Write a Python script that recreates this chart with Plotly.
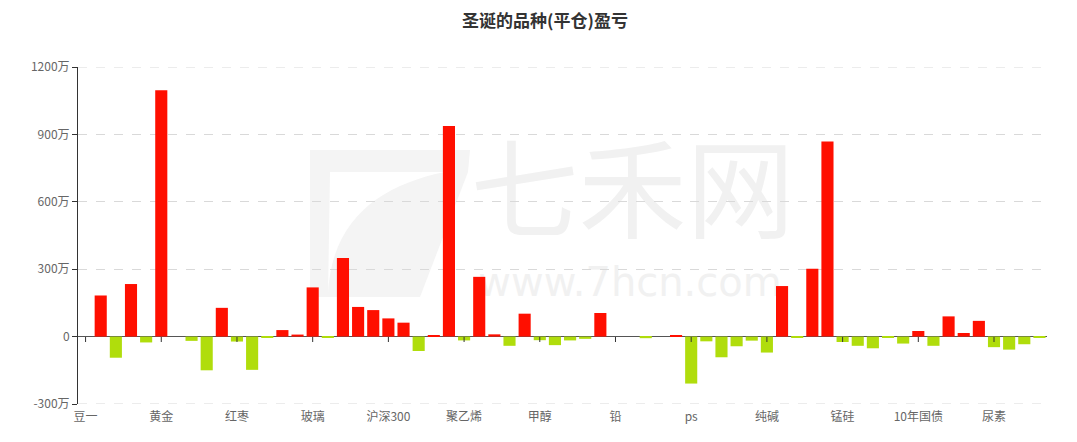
import plotly.graph_objects as go

# ---- data (values in 万元) ----
categories = [
    "豆一", "豆二", "豆粕", "豆油", "白银", "黄金", "棕榈油", "苹果", "棉花", "白糖",
    "红枣", "菜粕", "菜油", "鸡蛋", "生猪", "玻璃", "纸浆", "铁矿石", "螺纹钢", "热卷",
    "沪深300", "上证50", "中证500", "焦炭", "焦煤", "聚乙烯", "聚丙烯", "PVC", "PTA", "乙二醇",
    "甲醇", "苯乙烯", "沥青", "燃油", "原油", "铅", "铜", "铝", "锌", "镍",
    "ps", "锡", "不锈钢", "橡胶", "20号胶", "纯碱", "硅铁", "动力煤", "短纤", "液化气",
    "锰硅", "玉米", "淀粉", "粳米", "花生", "10年国债", "5年国债", "2年国债", "中证1000", "工业硅",
    "尿素", "碳酸锂", "集运指数", "菜籽",
]
pnl = [
    0, 183, -94, 234, -26, 1097, 0, -19, -150, 128,
    -22, -148, -3, 29, 9, 219, -2, 350, 132, 118,
    81, 62, -64, 6, 937, -17, 266, 10, -41, 102,
    -16, -38, -17, -10, 105, 0, 0, -7, 0, 3,
    -209, -21, -92, -43, -18, -71, 225, -5, 302, 868,
    -24, -41, -52, -4, -31, 25, -41, 90, 16, 70,
    -47, -58, -34, -2,
]
tick_labels = ["豆一", "黄金", "红枣", "玻璃", "沪深300", "聚乙烯", "甲醇", "铅", "ps",
               "纯碱", "锰硅", "10年国债", "尿素"]
y_ticks = [-300, 0, 300, 600, 900, 1200]
y_ticktext = ["-300万", "0", "300万", "600万", "900万", "1200万"]
title = "圣诞的品种(平仓)盈亏"

RED = "#ff0f00"
GREEN = "#b0dd0c"
FONT = "Noto Sans CJK SC"

colors = [RED if v >= 0 else GREEN for v in pnl]

fig = go.Figure(go.Bar(
    x=categories, y=pnl, marker=dict(color=colors, line=dict(width=0)),
    hovertemplate="%{x}: %{y}万<extra></extra>",
))

# plot area in pixels: x 78..1047, y 67..404
L, R, T, B = 78, 1047, 67, 404
W, H = 1077, 442


def px(x):
    return (x - L) / (R - L)


def py(y):
    return (B - y) / (B - T)


shapes = []
# watermark logo (light gray)
shapes.append(dict(
    type="path", xref="paper", yref="paper", layer="below",
    path=(f"M {px(310)},{py(150)} L {px(470)},{py(150)} L {px(468)},{py(172)} "
          f"L {px(420)},{py(297)} L {px(310)},{py(297)} Z"),
    fillcolor="#f4f4f4", line=dict(width=0),
))
shapes.append(dict(
    type="path", xref="paper", yref="paper", layer="below",
    path=(f"M {px(328)},{py(297)} C {px(330)},{py(220)} {px(380)},{py(185)} {px(445)},{py(172)} "
          f"L {px(330)},{py(172)} Z"),
    fillcolor="#ffffff", line=dict(width=0),
))
# watermark texts
shapes.append(dict(
    type="rect", xref="paper", yref="paper", layer="below",
    x0=px(470), x1=px(795), y0=py(255), y1=py(145),
    line=dict(width=0), fillcolor="rgba(0,0,0,0)",
    label=dict(text="七禾网", font=dict(family=FONT, size=108, color="#f1f1f1"),
               textposition="middle center"),
))
shapes.append(dict(
    type="rect", xref="paper", yref="paper", layer="below",
    x0=px(470), x1=px(790), y0=py(300), y1=py(258),
    line=dict(width=0), fillcolor="rgba(0,0,0,0)",
    label=dict(text="www.7hcn.com", font=dict(family="DejaVu Sans", size=40, color="#f1f1f1"),
               textposition="middle center"),
))
# dashed grid lines at the range edges
for yv in (y_ticks[0], y_ticks[-1]):
    shapes.append(dict(
        type="line", xref="paper", yref="y", x0=0, x1=1, y0=yv, y1=yv, layer="below",
        line=dict(color="#d9d9d9", width=1, dash="dash"),
    ))
# small ticks on the zero axis line at labelled categories
for lab in tick_labels:
    shapes.append(dict(
        type="line", xref="x", yref="paper", x0=lab, x1=lab,
        y0=py(337), y1=py(342), line=dict(color="#333333", width=1),
    ))

fig.update_layout(
    width=W, height=H,
    margin=dict(l=L, r=W - R, t=T, b=H - B),
    paper_bgcolor="white", plot_bgcolor="white",
    bargap=0.2,
    showlegend=False,
    title=dict(text=f"<b>{title}</b>", x=545 / W, xanchor="center", y=1 - 21 / H, yanchor="middle",
               font=dict(family=FONT, size=17, color="#333333")),
    font=dict(family=FONT, size=12, color="#666666"),
    shapes=shapes,
    xaxis=dict(
        type="category", tickmode="array", tickvals=tick_labels, ticktext=tick_labels,
        showgrid=False, showline=False, ticks="", tickangle=0, ticklabelstandoff=4,
        tickfont=dict(family=FONT, size=12, color="#666666"),
        range=[-0.5, len(categories) - 0.5],
    ),
    yaxis=dict(
        range=[-300, 1200], tickmode="array", tickvals=y_ticks, ticktext=y_ticktext,
        showgrid=True, gridcolor="#d9d9d9", griddash="dash", gridwidth=1,
        zeroline=True, zerolinecolor="#555555", zerolinewidth=1,
        showline=True, linecolor="#333333", linewidth=1,
        ticks="outside", ticklen=5, tickcolor="#333333",
        tickfont=dict(family=FONT, size=12, color="#666666"),
    ),
)

fig.write_html("out.html", config={"displayModeBar": False},
               post_script="document.body.style.margin='0px';")
